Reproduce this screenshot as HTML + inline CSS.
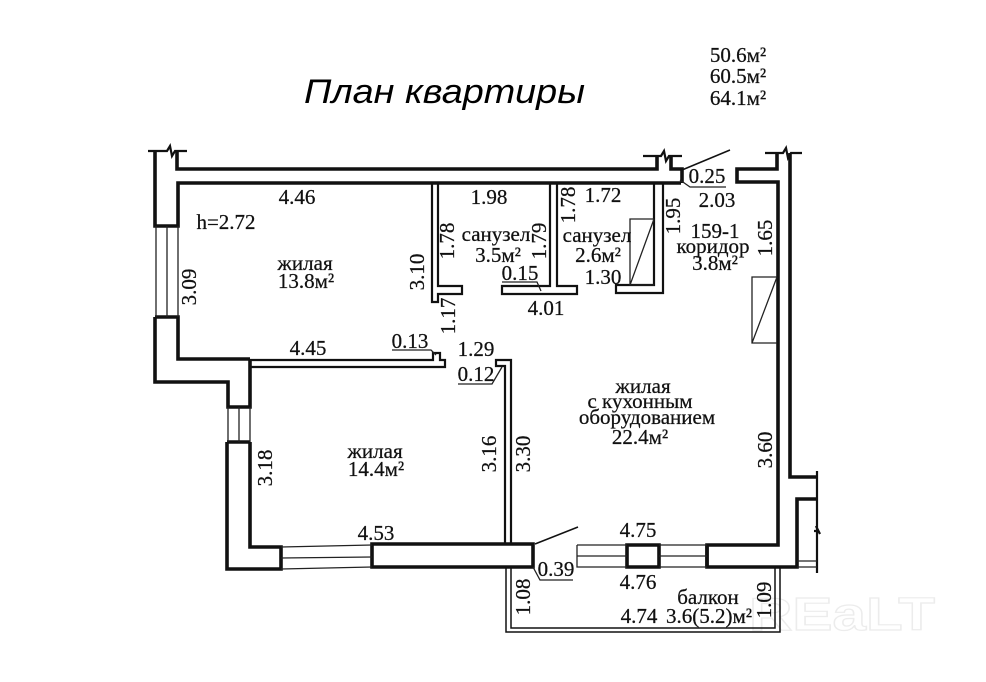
<!DOCTYPE html>
<html lang="ru"><head><meta charset="utf-8"><title>План квартиры</title>
<style>
html,body{margin:0;padding:0;background:#fff;width:986px;height:682px;overflow:hidden}
svg{display:block}
text{font-family:"Liberation Serif","Noto Serif CJK SC",serif;font-size:21px;fill:#111;stroke:#111;stroke-width:.25;text-anchor:middle}
.t{font-family:"Liberation Sans","Noto Sans CJK SC",sans-serif;font-style:italic;font-size:34px;text-anchor:start;fill:#000;stroke:none}
.w{fill:none;stroke:#111;stroke-width:3.6;stroke-linejoin:miter}
.m{fill:none;stroke:#111;stroke-width:2.2}
.n{fill:none;stroke:#222;stroke-width:1.3}
</style></head><body>
<svg width="986" height="682" viewBox="0 0 986 682" xmlns="http://www.w3.org/2000/svg">
<rect width="986" height="682" fill="#fff"/>
<!-- watermark -->
<text x="842" y="630" style="font-family:'Liberation Sans',sans-serif;font-size:46px;font-weight:bold;fill:#fff;stroke:#ececec;stroke-width:1.2" textLength="186" lengthAdjust="spacingAndGlyphs">REaLT</text>

<!-- thick walls -->
<path class="w" d="M155 151V226H178V183H681"/>
<path class="w" d="M177 151V169H657V156"/>
<path class="w" d="M671 156V169H682V183"/>
<path class="w" d="M777 153V169H737V182H778V545H707V567H797V499H817"/>
<path class="w" d="M790 153V477H817"/>
<path class="w" d="M155 317H178V359H250"/>
<path class="w" d="M155 317V382H228V407H250V360"/>
<path class="w" d="M227 442H250"/>
<path class="w" d="M250 442V547H281V569H227V442"/>
<path class="w" d="M372 544H533V567H372Z"/>
<path class="w" d="M627 545H659V567H627Z"/>
<path class="w" d="M707 545V567"/>

<!-- thin stubs -->
<path class="m" d="M148 151H167L170 146L172 156L175 151H187"/>
<path class="m" d="M643 156H661L664 151L666 161L669 156H682"/>
<path class="m" d="M765 153H783L786 148L788 158L791 153H802"/>
<path class="m" d="M817 471V573M814 531H818L816 526L820 534"/>

<!-- windows -->
<path class="n" d="M156 226V317M167 226V317M178 226V317"/>
<path class="n" d="M228 407V442M239 407V442M250 407V442"/>
<path class="n" d="M281 547L372 545M281 558L372 557M281 569L372 567"/>
<path class="n" d="M577 545V567H627M577 545H627M577 556H627M659 545H707M659 556H707M659 567H707"/>
<path class="n" d="M797 561H817M797 567H817"/>

<!-- interior partitions -->
<path class="m" d="M432 183V302H438V294H462V286H438V183"/>
<path class="m" d="M550 183V286H502V294H577V286H557V183"/>
<path class="m" d="M654 183V285H616V293H663V183"/>
<path class="m" d="M250 360H433V353H440V360H445V367H250"/>
<path class="m" d="M505 544V366H496V360H511V544"/>

<!-- vents -->
<path class="n" d="M654 219H630V285H654M630 285L654 219"/>
<path class="n" d="M777 277H752V343H777M752 343L777 277"/>

<!-- doors -->
<path class="m" d="M682 170L730 150" style="stroke-width:1.5"/>
<path class="m" d="M535 544L578 527" style="stroke-width:1.5"/>

<!-- balcony -->
<path class="m" d="M506 567V632H780V567" style="stroke-width:1.5"/>
<path class="m" d="M511 567V628H775V567" style="stroke-width:1.5"/>

<!-- leaders -->
<path class="n" d="M392 350H431L436 355"/>
<path class="n" d="M680 180L690 187H726"/>
<path class="n" d="M502 282H537L541 291"/>
<path class="n" d="M458 384H492L502 367"/>
<path class="n" d="M533 567L540 580H573"/>

<!-- title -->
<text class="t" x="304" y="103" textLength="281" lengthAdjust="spacingAndGlyphs">План квартиры</text>
<text x="738" y="62">50.6м²</text>
<text x="738" y="83">60.5м²</text>
<text x="738" y="105">64.1м²</text>

<!-- horizontal labels -->
<text x="297" y="204">4.46</text>
<text x="226" y="229">h=2.72</text>
<text x="305" y="270">жилая</text>
<text x="306" y="288">13.8м²</text>
<text x="308" y="355">4.45</text>
<text x="410" y="348">0.13</text>
<text x="489" y="204">1.98</text>
<text x="603" y="202">1.72</text>
<text x="496" y="241">санузел</text>
<text x="498" y="262">3.5м²</text>
<text x="520" y="280">0.15</text>
<text x="597" y="242">санузел</text>
<text x="598" y="262">2.6м²</text>
<text x="603" y="284">1.30</text>
<text x="546" y="315">4.01</text>
<text x="717" y="207">2.03</text>
<text x="707" y="183">0.25</text>
<text x="715" y="238">159-1</text>
<text x="713" y="253">коридор</text>
<text x="715" y="270">3.8м²</text>
<text x="476" y="356">1.29</text>
<text x="476" y="381">0.12</text>
<text x="643" y="393">жилая</text>
<text x="640" y="408">с кухонным</text>
<text x="647" y="424">оборудованием</text>
<text x="640" y="444">22.4м²</text>
<text x="375" y="458">жилая</text>
<text x="376" y="476">14.4м²</text>
<text x="376" y="540">4.53</text>
<text x="638" y="537">4.75</text>
<text x="638" y="589">4.76</text>
<text x="556" y="576">0.39</text>
<text x="708" y="604">балкон</text>
<text x="639" y="623">4.74</text>
<text x="709" y="623">3.6(5.2)м²</text>

<!-- rotated labels -->
<text transform="translate(196,287) rotate(-90)">3.09</text>
<text transform="translate(424,272) rotate(-90)">3.10</text>
<text transform="translate(454,241) rotate(-90)">1.78</text>
<text transform="translate(455,316) rotate(-90)">1.17</text>
<text transform="translate(546,241) rotate(-90)">1.79</text>
<text transform="translate(575,205) rotate(-90)">1.78</text>
<text transform="translate(680,216) rotate(-90)">1.95</text>
<text transform="translate(772,238) rotate(-90)">1.65</text>
<text transform="translate(772,450) rotate(-90)">3.60</text>
<text transform="translate(272,468) rotate(-90)">3.18</text>
<text transform="translate(496,454) rotate(-90)">3.16</text>
<text transform="translate(530,454) rotate(-90)">3.30</text>
<text transform="translate(530,597) rotate(-90)">1.08</text>
<text transform="translate(771,600) rotate(-90)">1.09</text>
</svg>
</body></html>
